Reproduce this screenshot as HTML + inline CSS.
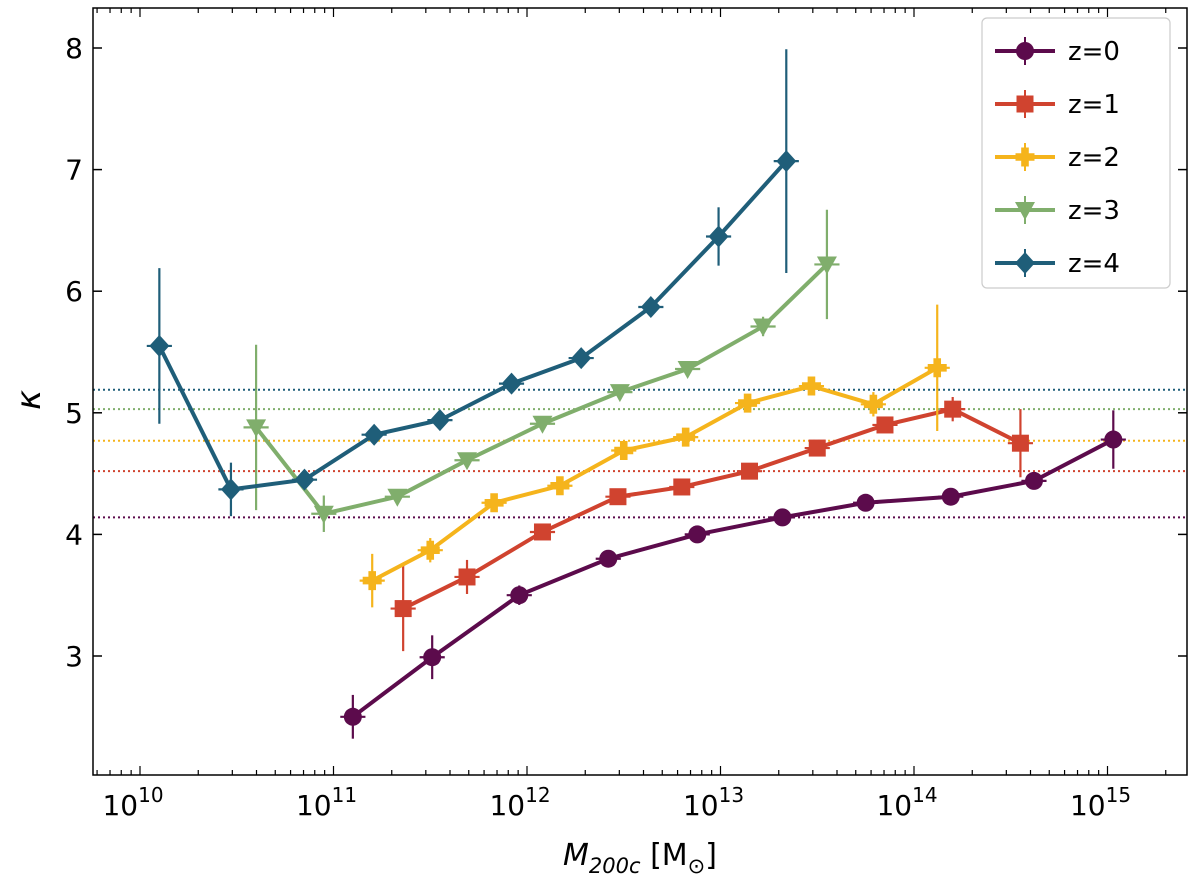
<!DOCTYPE html>
<html><head><meta charset="utf-8"><style>
body{margin:0;background:#fff}
svg text{font-family:"DejaVu Sans","Liberation Sans",sans-serif}
</style></head><body>
<svg id="c" width="1200" height="874" xmlns="http://www.w3.org/2000/svg"></svg>
<script>
const seriesNames=["z=0","z=1","z=2","z=3","z=4"];
const colors=["#5c0b4c","#d0432f","#f5b41c","#80ae6c","#1f5e79"];
const markers=["circle","square","plus","tri","diamond"];
const logM0=[11.10,11.51,11.96,12.42,12.88,13.32,13.75,14.19,14.62,15.03];
const k0=[2.50,2.99,3.50,3.80,4.00,4.14,4.26,4.31,4.44,4.78];
const e0=[0.18,0.18,0.08,0.04,0.03,0.03,0.03,0.03,0.04,0.24];
const logM1=[11.36,11.69,12.08,12.47,12.80,13.15,13.50,13.85,14.20,14.55];
const k1=[3.39,3.65,4.02,4.31,4.39,4.52,4.71,4.90,5.03,4.75];
const e1=[0.35,0.14,0.06,0.06,0.05,0.04,0.04,0.06,0.10,0.28];
const logM2=[11.20,11.50,11.83,12.17,12.50,12.82,13.14,13.47,13.79,14.12];
const k2=[3.62,3.87,4.26,4.40,4.69,4.80,5.08,5.22,5.07,5.37];
const e2=[0.22,0.10,0.06,0.05,0.05,0.05,0.05,0.05,0.10,0.52];
const logM3=[10.60,10.95,11.33,11.69,12.08,12.48,12.83,13.22,13.55];
const k3=[4.88,4.17,4.31,4.61,4.91,5.17,5.36,5.71,6.22];
const e3=[0.68,0.15,0.05,0.04,0.05,0.05,0.05,0.08,0.45];
const logM4=[10.10,10.47,10.85,11.21,11.55,11.92,12.28,12.64,12.99,13.34];
const k4=[5.55,4.37,4.45,4.82,4.94,5.24,5.45,5.87,6.45,7.07];
const e4=[0.64,0.22,0.06,0.06,0.06,0.05,0.05,0.07,0.24,0.92];
const refLines=[4.14,4.52,4.77,5.03,5.19];
const yTicks=[3,4,5,6,7,8];
const xTicks=[10,11,12,13,14,15];
const X=[logM0,logM1,logM2,logM3,logM4],Y=[k0,k1,k2,k3,k4],E=[e0,e1,e2,e3,e4];
const L=93,R=1187,T=8,B=775;
const sx=v=>140+(v-10)*193.5;
const sy=v=>656-(v-3)*121.6;
const svg=document.getElementById('c');
const NS="http://www.w3.org/2000/svg";
function mk(tag,at,parent){const e=document.createElementNS(NS,tag);for(const k in at)e.setAttribute(k,at[k]);(parent||svg).appendChild(e);return e;}
refLines.forEach((v,i)=>{const l=mk('line',{x1:L,x2:R,y1:sy(v),y2:sy(v),stroke:colors[i],'stroke-width':2,'stroke-dasharray':'2,3'});

});
function marker(type,x,y,c,g,s){s=s||1;
 if(type=='circle')return mk('circle',{cx:x,cy:y,r:9*s,fill:c},g);
 if(type=='square')return mk('rect',{x:x-8.5*s,y:y-8.5*s,width:17*s,height:17*s,fill:c},g);
 if(type=='tri')return mk('polygon',{points:`${x-10*s},${y-8*s} ${x+10*s},${y-8*s} ${x},${y+10*s}`,fill:c},g);
 if(type=='diamond')return mk('polygon',{points:`${x},${y-11*s} ${x+10*s},${y} ${x},${y+11*s} ${x-10*s},${y}`,fill:c},g);
 const a=3.8*s,b=9.5*s;
 return mk('polygon',{points:`${x-a},${y-b} ${x+a},${y-b} ${x+a},${y-a} ${x+b},${y-a} ${x+b},${y+a} ${x+a},${y+a} ${x+a},${y+b} ${x-a},${y+b} ${x-a},${y+a} ${x-b},${y+a} ${x-b},${y-a} ${x-a},${y-a}`,fill:c},g);
}
for(let s=0;s<5;s++){
 const g=mk('g',{});
 
 
 const xs=X[s],ys=Y[s],es=E[s],c=colors[s];
 mk('polyline',{points:xs.map((v,i)=>sx(v)+','+sy(ys[i])).join(' '),fill:'none',stroke:c,'stroke-width':4},g);
 xs.forEach((v,i)=>{
  mk('line',{x1:sx(v),x2:sx(v),y1:sy(ys[i]-es[i]),y2:sy(ys[i]+es[i]),stroke:c,'stroke-width':2.2},g);
  mk('line',{x1:sx(v-0.065),x2:sx(v+0.065),y1:sy(ys[i]),y2:sy(ys[i]),stroke:c,'stroke-width':2.2},g);
  const m=marker(markers[s],sx(v),sy(ys[i]),c,g);
  
  
 });
}
mk('rect',{x:L,y:T,width:R-L,height:B-T,fill:'none',stroke:'#000','stroke-width':1.5});
yTicks.forEach(v=>{const y=sy(v);
 mk('line',{x1:L,x2:L+9,y1:y,y2:y,stroke:'#000','stroke-width':1.5});
 mk('line',{x1:R,x2:R-9,y1:y,y2:y,stroke:'#000','stroke-width':1.5});
 const t=mk('text',{x:L-10,y:y+10,'text-anchor':'end','font-size':28});t.textContent=v;
 });
for(let d=9;d<=15;d++){for(let m=1;m<10;m++){const v=d+Math.log10(m);const x=sx(v);if(x<L||x>R)continue;
 const len=m==1?9:5;
 mk('line',{x1:x,x2:x,y1:B,y2:B-len,stroke:'#000','stroke-width':1.2});
 mk('line',{x1:x,x2:x,y1:T,y2:T+len,stroke:'#000','stroke-width':1.2});}}
xTicks.forEach(v=>{const t=mk('text',{x:sx(v)-7,y:B+40,'text-anchor':'middle','font-size':28});
 t.textContent='10';const sp=mk('tspan',{dy:-13,'font-size':20},t);sp.textContent=v;
 });
let t=mk('text',{x:640,y:B+90,'text-anchor':'middle','font-size':30});
t.innerHTML='<tspan font-style="italic">M</tspan><tspan font-size="21" dy="8" font-style="italic">200c</tspan><tspan dy="-8"> [M</tspan><tspan font-size="21" dy="8">⊙</tspan><tspan dy="-8">]</tspan>';

t=mk('text',{x:40,y:400,'text-anchor':'middle','font-size':34,'font-style':'italic',transform:'rotate(-90 40 400)'});t.textContent='κ';

const lg=mk('g',{});
mk('rect',{x:982,y:18,width:188,height:270,rx:5,fill:'#fff','fill-opacity':0.85,stroke:'#ccc','stroke-width':1.2},lg);
seriesNames.forEach((n,i)=>{const y=51+i*53;
 const e=mk('g',{},lg);
 mk('line',{x1:995,x2:1055,y1:y,y2:y,stroke:colors[i],'stroke-width':4},e);
 mk('line',{x1:1025,x2:1025,y1:y-14,y2:y+14,stroke:colors[i],'stroke-width':2},e);
 marker(markers[i],1025,y,colors[i],e);
 const tt=mk('text',{x:1068,y:y+9,'font-size':26},e);tt.textContent=n;});
</script>
</body></html>
